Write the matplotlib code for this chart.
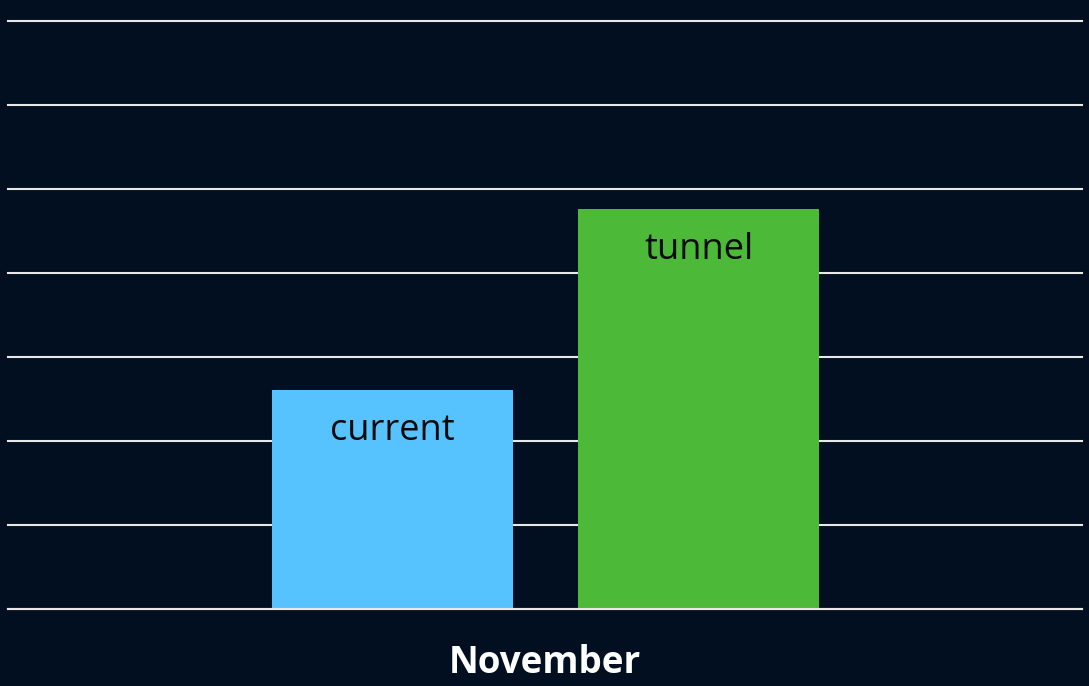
import matplotlib
matplotlib.use("Agg")
import matplotlib.pyplot as plt

# ── Data ─────────────────────────────────────────────
categories = ["current", "tunnel"]
values = [2.61, 4.76]
month = "November"
colors = ["#56c3ff", "#4cb938"]

BG = "#020f20"

fig = plt.figure(figsize=(10.89, 6.86), dpi=100, facecolor=BG)
ax = fig.add_axes([8 / 1089, 77 / 686, 1074 / 1089, 588 / 686], facecolor=BG)

x = range(len(categories))
bars = ax.bar(x, values, width=0.7876, color=colors, zorder=3)

for xi, v, lab in zip(x, values, categories):
    ax.annotate(lab, (xi, v), xytext=(0, -29.5), textcoords="offset points",
                ha="center", va="center", fontsize=26, color="#0a0a0a",
                family="Open Sans", zorder=4)

ax.set_xlim(-1.2565, 2.253)
ax.set_ylim(0, 7)
ax.set_yticks(range(0, 8))
ax.yaxis.grid(True, color="#e8e8e8", linewidth=1.5, zorder=1)
for gl in ax.get_ygridlines():
    gl.set_clip_on(False)
ax.axhline(0, color="#e8e8e8", linewidth=1.5, zorder=5, clip_on=False)
ax.tick_params(left=False, bottom=False, labelleft=False, labelbottom=False)
for s in ax.spines.values():
    s.set_visible(False)

fig.text(545 / 1089, 1 - 663 / 686, month, ha="center", va="center",
         fontsize=26.5, fontweight="bold", color="white", family="Open Sans")

fig.savefig("out.png", dpi=100, facecolor=BG)
